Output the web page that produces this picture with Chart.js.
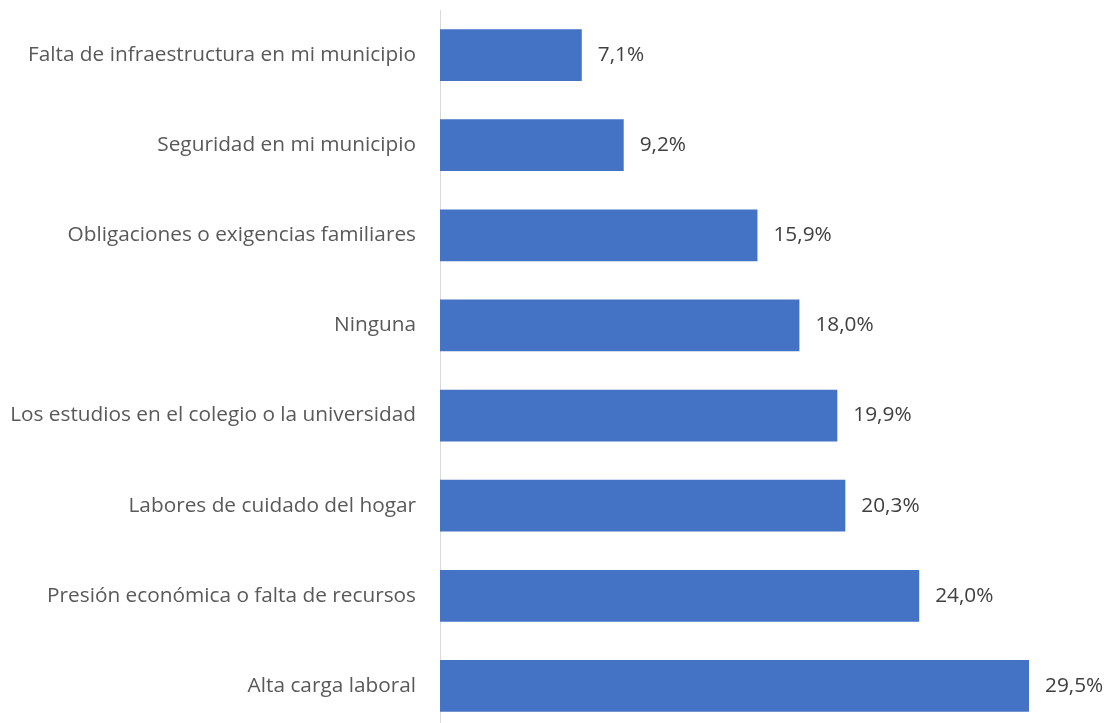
<!DOCTYPE html>
<html>
<head>
<meta charset="utf-8">
<script src="https://cdn.jsdelivr.net/npm/chart.js@4/dist/chart.umd.min.js"></script>
<style>
    html, body { margin: 0; padding: 0; background: #ffffff; overflow: hidden; }
    #wrap { position: relative; width: 1109px; height: 731px; }
</style>
</head>
<body>
<div id="wrap"><canvas id="barChart"></canvas></div>
<script>
/* ---------------------------------------------------
   Data
---------------------------------------------------*/

const categories = [
    "Falta de infraestructura en mi municipio",
    "Seguridad en mi municipio",
    "Obligaciones o exigencias familiares",
    "Ninguna",
    "Los estudios en el colegio o la universidad",
    "Labores de cuidado del hogar",
    "Presión económica o falta de recursos",
    "Alta carga laboral"
];

const percentValues = [7.1, 9.2, 15.9, 18.0, 19.9, 20.3, 24.0, 29.5];

const axisMax = 30;

const fontFamily = "'Open Sans', 'Noto Sans', sans-serif";

/* ---------------------------------------------------
   Value labels at the end of each bar
---------------------------------------------------*/

const valueLabels = {
    id: "valueLabels",
    afterDatasetsDraw(chart) {
        const ctx = chart.ctx;
        const meta = chart.getDatasetMeta(0);

        ctx.save();
        ctx.font = "20.8px " + fontFamily;
        ctx.fillStyle = "#404040";
        ctx.textAlign = "left";
        ctx.textBaseline = "middle";

        meta.data.forEach((bar, i) => {
            const text = percentValues[i].toFixed(1).replace(".", ",") + "%";
            ctx.fillText(text, bar.x + 16, bar.y);
        });

        ctx.restore();
    }
};

/* ---------------------------------------------------
   Chart
---------------------------------------------------*/

function renderChart() {

    const ctx = document.getElementById("barChart");

    new Chart(ctx, {
        type: "bar",
        data: {
            labels: categories,
            datasets: [{
                data: percentValues,
                backgroundColor: "#4472C4",
                categoryPercentage: 1,
                barPercentage: 0.575
            }]
        },
        options: {
            indexAxis: "y",
            responsive: true,
            maintainAspectRatio: false,
            animation: false,
            layout: {
                padding: { top: 10, right: 70, left: 0, bottom: 0 }
            },
            plugins: {
                legend: { display: false },
                tooltip: { enabled: false }
            },
            scales: {
                x: {
                    display: false,
                    min: 0,
                    max: axisMax
                },
                y: {
                    afterFit(scale) {
                        scale.width = 440;
                        scale.paddingTop = 0;
                        scale.paddingBottom = 0;
                    },
                    grid: { display: false, drawTicks: false },
                    border: { display: true, color: "#d9d9d9", width: 1 },
                    ticks: {
                        padding: 24,
                        color: "#595959",
                        font: { family: fontFamily, size: 20.8 }
                    }
                }
            }
        },
        plugins: [valueLabels]
    });

}

window.onload = function () {

    renderChart();

};
</script>
</body>
</html>
